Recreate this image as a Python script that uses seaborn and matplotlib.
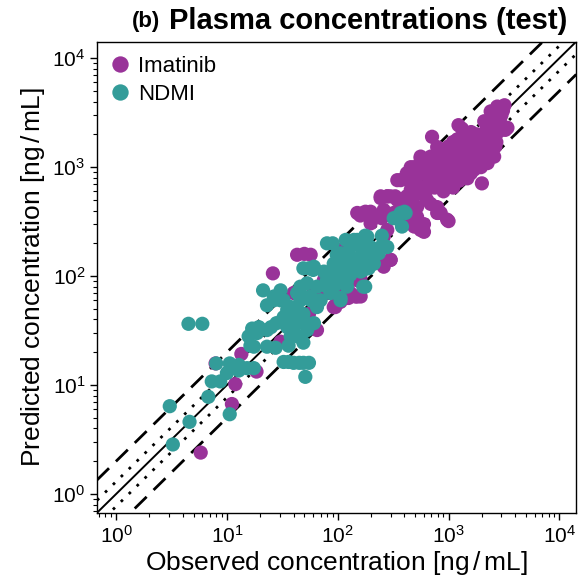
import numpy as np
import pandas as pd
import seaborn as sns
import matplotlib
matplotlib.use("Agg")
import matplotlib.pyplot as plt

# observed / predicted concentrations (ng/mL)
imatinib_obs = [
    5.8, 11.1, 11.9, 7.9, 13.5, 18.5, 30.5, 26, 43, 50, 57, 65, 43, 55, 40, 61, 70, 80,
    92, 106, 150, 95, 145, 106, 140, 150, 86, 130, 161, 75, 102, 110, 300, 260, 280,
    160, 125, 95, 110, 190, 250, 244, 150, 170, 260, 300,
    160, 178, 218, 244, 300, 330, 390, 370, 470, 560, 710, 1230, 2100, 2750, 3200,
    3400, 2000, 1000, 810, 600, 440, 520, 170, 198, 260, 320, 345, 370, 420, 520, 600,
    560, 490, 790, 244, 280, 420, 490, 560, 640, 690, 790, 850, 970, 198, 250, 520,
    520, 420, 345, 280, 456, 490, 420, 345, 150,
    2750, 2400, 1320, 3250, 1960, 2250, 1820, 1480, 1200, 970, 790, 850, 690, 560, 490,
    600, 690, 790, 1050, 1290, 1590, 1820, 2100, 2400, 1370, 1590, 1960, 2250, 2580,
    970, 1200, 1480, 690, 850, 560, 640, 456, 456, 520,
    1100, 1400, 1700, 2000, 2600, 2900, 3000, 2200, 1800, 1500, 1100, 900, 1150, 1600,
    2300, 2700, 1300, 1000, 800, 650, 750, 900, 1100, 1300, 1700, 2200, 3000, 2500,
    2000, 1250,
    650, 720, 880, 950, 1050, 1150, 1250, 1350, 1450, 1550, 1650, 1750, 1850, 1900,
    2050, 2150, 2350, 2450, 2550, 2650, 2800, 1100, 1200, 1400, 1550, 1700, 1800, 1950,
    2100, 950, 1050, 1150, 1250, 1350, 800, 700, 600, 1000, 1200, 1400, 1600, 2700,
    2900, 3100,
]
imatinib_pred = [
    2.4, 6.7, 10.2, 15.8, 19.3, 13.3, 25, 106, 157, 160, 157, 32, 42, 45, 70, 74, 65, 70,
    52, 58, 65, 54, 65, 74, 99, 92, 70, 70, 65, 92, 174, 162, 141, 230, 265,
    95, 63, 52, 80, 135, 130, 141, 92, 122, 122, 141,
    360, 390, 350, 520, 540, 540, 480, 760, 980, 1210, 1900, 2430, 2640, 3600, 3700,
    2300, 710, 320, 380, 255, 330, 285, 380, 390, 405, 380, 350, 460, 330, 350, 300,
    265, 285, 380, 540, 540, 540, 540, 580, 500, 460, 430, 380, 330, 305, 340, 330,
    430, 460, 500, 540, 620, 760, 880, 760, 380,
    3450, 3250, 2260, 2200, 1780, 1900, 1660, 1530, 1440, 1440, 1530, 1350, 1250, 1250, 1000,
    1090, 940, 880, 940, 1000, 1090, 1250, 1350, 1440, 820, 880, 1000, 1090, 1250,
    820, 760, 790, 760, 720, 660, 620, 1000, 720, 820,
    1150, 1200, 1400, 1600, 2000, 2600, 3000, 2200, 2000, 1800, 1700, 1100, 1300, 1300,
    1500, 1700, 1600, 1200, 1000, 820, 650, 600, 650, 900, 950, 1200, 2400, 2800,
    2000, 1050,
    1050, 1150, 1250, 1000, 1300, 1550, 1350, 1150, 1400, 1650, 1200, 1550, 1850, 1400,
    1750, 2050, 1650, 2050, 2350, 1550, 2100, 900, 1050, 950, 1100, 1150, 1050, 1250,
    1150, 700, 800, 850, 750, 1000, 1200, 1050, 900, 1550, 1800, 1900, 2100, 3000,
    2800, 3300,
]

ndmi_obs = [
    4.5, 6.0, 3.05, 3.25, 4.6, 6.8, 10.6, 8.0, 7.3, 8.7, 10.6, 12.8, 10.0, 12.8, 15.2,
    17.5, 16.9, 19.4, 21.2, 23, 32.5, 36, 40, 45, 49, 55, 51, 49, 36, 27.5, 23, 17.5,
    16.3, 15.7, 18.7, 23, 25,
    30.5, 26.5, 32.5, 46, 65, 37.6, 43, 35, 49, 40, 46, 53, 61, 32.5, 28, 35, 40, 37.6,
    43, 53, 26.5, 30.5, 43, 49, 57, 65, 106, 57, 70, 86, 106, 46, 53, 65, 80, 99, 121,
    170, 177, 80, 99, 121, 92, 49, 60, 75, 89, 106, 130, 161, 190, 55, 61, 92, 113, 140,
    170, 92, 113, 140, 170, 212, 106, 130, 161, 198, 235, 98, 121, 150, 130, 161, 198,
    244, 280, 118, 140, 177, 250, 80, 90, 150, 185, 320, 370, 410, 380, 345, 400,
]
ndmi_pred = [
    36.5, 36.5, 6.4, 2.85, 4.6, 7.8, 5.4, 15.8, 10.8, 10.8, 15.8, 15.3, 12.9, 13.6, 14.3,
    14.3, 33, 34, 74, 54, 16.3, 16.3, 16, 16, 16, 16, 11.9, 24.5, 23, 22, 22.5, 22.5,
    23, 28, 30, 32, 34,
    74, 60, 60, 60, 52, 52, 50, 49, 45, 40, 38, 37, 37, 42, 37, 34, 32, 28,
    28, 32, 65, 60, 70, 65, 60, 58, 60, 65, 60, 70, 63, 80, 86, 80, 80, 86, 80,
    80, 80, 92, 92, 90, 80, 118, 114, 110, 107, 107, 103, 110, 118, 118, 122, 122, 114, 114,
    114, 130, 130, 130, 130, 130, 162, 150, 150, 162, 162, 157, 150, 141, 185, 185, 185,
    185, 185, 215, 215, 235, 235, 200, 200, 215, 230, 340, 380, 380, 285, 350, 390,
]

df = pd.concat([
    pd.DataFrame({"obs": imatinib_obs, "pred": imatinib_pred, "compound": "Imatinib"}),
    pd.DataFrame({"obs": ndmi_obs, "pred": ndmi_pred, "compound": "NDMI"}),
])

sns.set_style("ticks")
plt.rcParams["font.family"] = ["Liberation Sans", "DejaVu Sans"]
plt.rcParams["mathtext.fontset"] = "custom"
plt.rcParams["mathtext.rm"] = "Liberation Sans"
plt.rcParams["mathtext.it"] = "Liberation Sans:italic"
plt.rcParams["mathtext.bf"] = "Liberation Sans:bold"
for key in ["text.color", "axes.labelcolor", "xtick.color", "ytick.color", "axes.edgecolor"]:
    plt.rcParams[key] = "black"

fig = plt.figure(figsize=(5.85, 5.83), dpi=100)
ax = fig.add_axes([0.166, 0.1206, 0.819, 0.808])

lim = (0.674, 1.42e4)

# identity, 1.3-fold and 2-fold lines
xx = np.array(lim)
ax.plot(xx, xx, color="black", lw=1.4, zorder=1)
for f in (1.3, 1 / 1.3):
    ax.plot(xx, xx * f, color="black", lw=2, ls=(0, (1, 3)), zorder=1)
for f in (2, 0.5):
    ax.plot(xx, xx * f, color="black", lw=2, ls=(0, (6, 3.5)), zorder=1)

sns.scatterplot(
    data=df, x="obs", y="pred", hue="compound",
    palette={"Imatinib": "#993399", "NDMI": "#339c99"},
    s=105, linewidth=0, alpha=1, ax=ax, zorder=3,
)

ax.set_xscale("log")
ax.set_yscale("log")
ax.set_xlim(lim)
ax.set_ylim(lim)

unit = r"$\left[\mathrm{ng}\,/\,\mathrm{mL}\right]$"
ax.set_xlabel("Observed concentration " + unit, fontsize=19, labelpad=2)
ax.set_ylabel("Predicted concentration " + unit, fontsize=19, labelpad=4)
ax.tick_params(which="major", labelsize=15, length=5, width=1, direction="out")
ax.tick_params(which="minor", length=3, width=0.8)
for sp in ax.spines.values():
    sp.set_linewidth(1)

ax.text(0.131, 1.02, "(b)", transform=ax.transAxes, ha="right", va="bottom",
        fontsize=16, fontweight="bold")
ax.text(0.565, 1.014, "Plasma concentrations (test)", transform=ax.transAxes,
        ha="center", va="bottom", fontsize=21, fontweight="bold")

leg = ax.legend(loc="upper left", frameon=False, fontsize=16, handletextpad=0.4,
                handlelength=0.8, borderaxespad=0.15, borderpad=0.5,
                labelspacing=0.3, markerscale=1.15)
leg.set_title(None)

fig.savefig("out.png", dpi=100)
